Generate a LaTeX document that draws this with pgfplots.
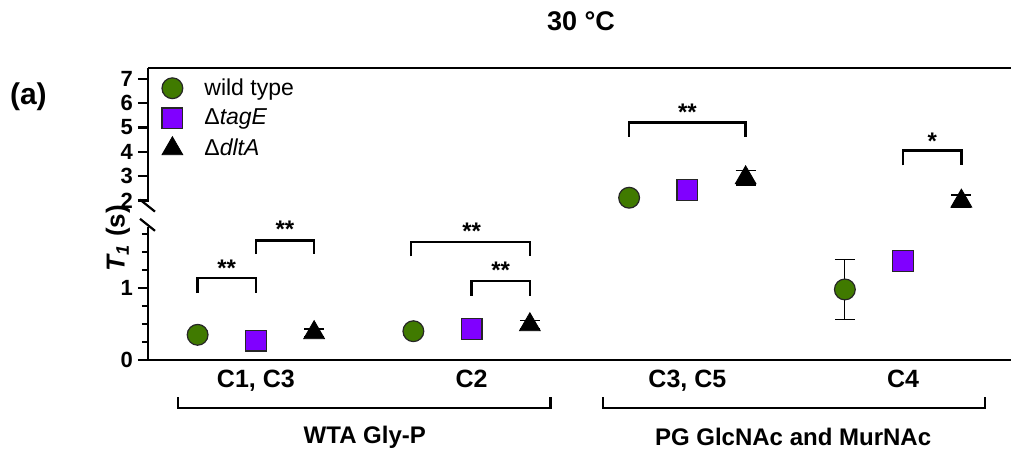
\documentclass[border=0pt]{standalone}
\usepackage{fontspec}
\setmainfont{Liberation Sans}
\usepackage{pgfplots}
\pgfplotsset{compat=1.18}

\definecolor{wtgreen}{RGB}{64,122,0}
\definecolor{tagpurple}{RGB}{128,0,255}

\pgfplotsset{
  common/.style={
    scale only axis, width=431.5pt,
    xmin=-0.5, xmax=3.5,
    axis line style={line width=1.25pt},
    major tick length=5pt, minor tick length=3pt,
    tick style={line width=1.25pt, black},
    tick align=outside,
    clip=false,
    /pgf/number format/assume math mode=true,
    yticklabel style={font=\fontsize{11}{13}\selectfont\bfseries, xshift=1pt},
  },
  wt/.style={only marks, mark=*, mark size=5.2pt,
    mark options={fill=wtgreen, draw=black!85, line width=0.6pt}},
  tag/.style={only marks, mark=square*, mark size=5.2pt,
    mark options={fill=tagpurple, draw=black!85, line width=0.6pt}},
  dlt/.style={only marks, mark=triangle*, mark size=6pt,
    mark options={fill=black, draw=black, line width=0.4pt}},
  ebar/.style={error bars/.cd, y dir=both, y explicit,
    error bar style={line width=0.6pt, black},
    error mark options={rotate=90, mark size=5pt, line width=0.6pt, black}},
}
\tikzset{
  sig/.style={line width=1.2pt},
  stars/.style={font=\fontsize{12}{14}\selectfont\bfseries, anchor=base, yshift=-7pt, inner sep=0pt},
}

\begin{document}
\begin{tikzpicture}
\useasboundingbox (0,0) rectangle (505.5pt,-226pt);

% upper segment (2-7 s)
\begin{axis}[common,
  at={(74pt,-34pt)}, anchor=north west, height=66.8pt,
  ymin=1.95, ymax=7.45,
  axis x line*=top, axis y line*=left,
  xtick=\empty, ytick={2,3,4,5,6,7},
  legend style={at={(axis description cs:0,1)}, anchor=north west,
    xshift=2pt, yshift=-1pt, draw=none, fill=none,
    font=\fontsize{11.5}{13}\selectfont, row sep=1.5pt,
    cells={anchor=west}},
  legend image code/.code={\path[draw=none,fill=none] (0pt,0pt) (21pt,0pt);
    \draw[#1,mark repeat=2,mark phase=2] plot coordinates {(0pt,0pt)(7pt,0pt)(14pt,0pt)};},
]
\addplot[wt] coordinates {(1.73,2.11)};
\addlegendentry{wild type}
\addplot[tag] coordinates {(2,2.44)};
\addlegendentry{Δ\textit{tagE}}
\addplot[dlt, ebar] coordinates {(2.27,2.93) +- (0,0.3) (3.27,1.97) +- (0,0.25)};
\addlegendentry{Δ\textit{dltA}}
% significance
\draw[sig] (axis cs:1.73,4.62) |- (axis cs:2.27,5.20) -- (axis cs:2.27,4.62);
\node[stars] at (axis cs:2.0,5.87) {**};
\draw[sig] (axis cs:3,3.44) |- (axis cs:3.27,4.05) -- (axis cs:3.27,3.44);
\node[stars] at (axis cs:3.135,4.67) {*};
% break mark
\draw[line width=1.1pt] ([xshift=-4pt,yshift=1pt]axis description cs:0,0) -- ([xshift=3.5pt,yshift=-5pt]axis description cs:0,0);
\end{axis}

% lower segment (0-1.85 s)
\begin{axis}[common,
  at={(74pt,-180pt)}, anchor=south west, height=66.6pt,
  ymin=0, ymax=1.85,
  axis x line*=bottom, axis y line*=left,
  ytick={0,1}, minor ytick={0.25,0.5,0.75,1.25,1.5,1.75},
  xtick=\empty,
  extra x ticks={0,1,2,3},
  extra x tick labels={{C1, C3},{C2},{C3, C5},{C4}},
  extra x tick style={major tick length=0pt,
    tick label style={font=\fontsize{12.5}{14}\selectfont\bfseries, yshift=-1.5pt}},
]
\addplot[wt, ebar] coordinates {(-0.27,0.35) +- (0,0) (0.73,0.40) +- (0,0) (2.73,0.98) +- (0,0.42)};
\addplot[tag] coordinates {(0,0.27) (1,0.43) (3,1.375)};
\addplot[dlt, ebar] coordinates {(0.27,0.38) +- (0,0.05) (1.27,0.49) +- (0,0.06)};
% significance
\draw[sig] (axis cs:-0.27,0.93) |- (axis cs:0,1.14) -- (axis cs:0,0.93);
\node[stars] at (axis cs:-0.135,1.36) {**};
\draw[sig] (axis cs:0,1.47) |- (axis cs:0.27,1.66) -- (axis cs:0.27,1.47);
\node[stars] at (axis cs:0.135,1.89) {**};
\draw[sig] (axis cs:0.72,1.44) |- (axis cs:1.27,1.64) -- (axis cs:1.27,1.44);
\node[stars] at (axis cs:1.0,1.875) {**};
\draw[sig] (axis cs:1,0.89) |- (axis cs:1.27,1.10) -- (axis cs:1.27,0.89);
\node[stars] at (axis cs:1.135,1.32) {**};
% break mark
\draw[line width=1.1pt] ([xshift=-4pt,yshift=4pt]axis description cs:0,1) -- ([xshift=3.5pt,yshift=-2pt]axis description cs:0,1);
% group brackets
\draw[line width=1.2pt] (axis cs:-0.36,-0.514) |- (axis cs:1.366,-0.667) -- (axis cs:1.366,-0.514);
\draw[line width=1.2pt] (axis cs:1.61,-0.514) |- (axis cs:3.38,-0.667) -- (axis cs:3.38,-0.514);
\node[font=\fontsize{12}{14}\selectfont\bfseries] at (axis cs:0.505,-1.07) {WTA Gly-P};
\node[font=\fontsize{12}{14}\selectfont\bfseries] at (axis cs:2.49,-1.07) {PG GlcNAc and MurNAc};
\end{axis}

% titles
\node[font=\fontsize{13.5}{16}\selectfont\bfseries] at (290.5pt,-10.8pt) {30 °C};
\node[font=\fontsize{15}{18}\selectfont\bfseries] at (14.2pt,-48.5pt) {(a)};
\node[rotate=90, font=\fontsize{13}{15}\selectfont\bfseries] at (59pt,-119pt) {\textit{T\textsubscript{1}} (s)};
\end{tikzpicture}
\end{document}
